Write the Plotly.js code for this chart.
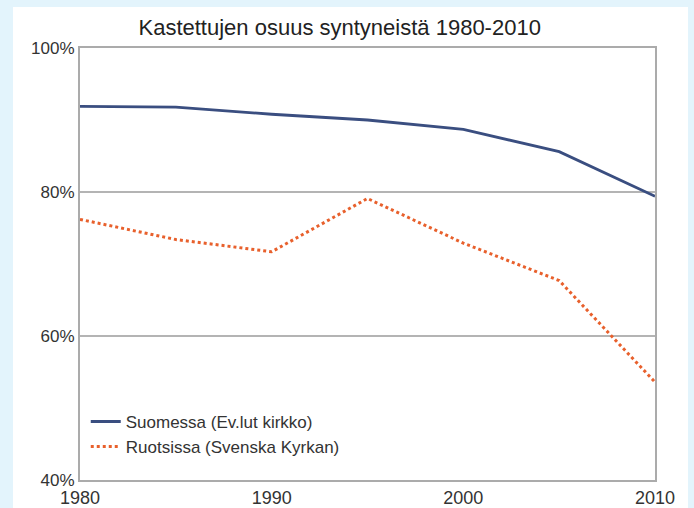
<!DOCTYPE html>
<html><head><meta charset="utf-8">
<script src="https://cdn.plot.ly/plotly-3.0.1.min.js"></script>
<style>
html,body{margin:0;padding:0;background:#e3f4fc;width:694px;height:508px;overflow:hidden;}
#chart{position:absolute;left:13px;top:7px;width:675px;height:501px;}
</style></head><body>
<div id="chart"></div>
<script>
const years = [1980, 1985, 1990, 1995, 2000, 2005, 2010];
const suomessa = [91.9, 91.8, 90.8, 90.0, 88.7, 85.6, 79.4];
const ruotsissa = [76.2, 73.4, 71.7, 79.1, 72.9, 67.7, 53.6];
const seriesNames = ['Suomessa (Ev.lut kirkko)', 'Ruotsissa (Svenska Kyrkan)'];
const yTicks = [40, 60, 80, 100];
const xTicks = [1980, 1990, 2000, 2010];

const traces = [
  {x: years, y: suomessa, name: seriesNames[0], type: 'scatter', mode: 'lines',
   line: {color: '#3a4e80', width: 2.8}},
  {x: years, y: ruotsissa, name: seriesNames[1], type: 'scatter', mode: 'lines',
   line: {color: '#e8602c', width: 3, dash: 'dot'}}
];

const layout = {
  width: 675, height: 501,
  paper_bgcolor: '#ffffff', plot_bgcolor: '#ffffff',
  margin: {l: 67, r: 33, t: 41, b: 28},
  font: {family: 'Liberation Sans, Arial, sans-serif', color: '#333333', size: 17},
  title: {text: 'Kastettujen osuus syntyneistä 1980-2010', x: 0.484, xanchor: 'center',
          y: 0.96, yanchor: 'middle', yref: 'container',
          font: {size: 22, color: '#222222', family: 'Liberation Sans, Arial, sans-serif'}},
  xaxis: {range: [1980, 2010], tickvals: xTicks, ticktext: xTicks.map(String),
          showgrid: false, zeroline: false, showline: true, mirror: true,
          linecolor: '#ababab', linewidth: 2, ticks: '', ticklen: 0,
          tickfont: {size: 18, color: '#333333'}, automargin: false},
  yaxis: {range: [40, 100], tickvals: yTicks, ticktext: yTicks.map(v => v + '%'),
          showgrid: true, gridcolor: '#b4b4b4', gridwidth: 2, zeroline: false,
          showline: true, mirror: true, linecolor: '#ababab', linewidth: 2,
          ticks: '', tickfont: {size: 17, color: '#333333'}, automargin: false},
  showlegend: true,
  legend: {x: 0.01, y: 0.176, xanchor: 'left', yanchor: 'top', bgcolor: 'rgba(0,0,0,0)',
           font: {size: 17, color: '#333333'}, itemwidth: 30, tracegroupgap: 0}
};

Plotly.newPlot('chart', traces, layout, {displayModeBar: false, staticPlot: true});
</script>
</body></html>
